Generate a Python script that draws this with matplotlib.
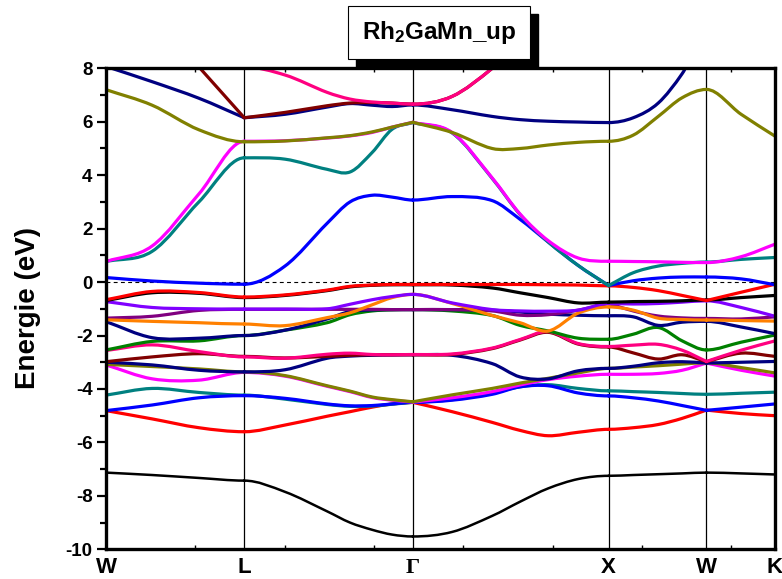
import numpy as np
import matplotlib
matplotlib.use("Agg")
import matplotlib.pyplot as plt
from matplotlib.path import Path
from matplotlib.patches import PathPatch, Rectangle
from matplotlib.transforms import blended_transform_factory

plt.rcParams['font.family'] = 'Liberation Sans'
plt.rcParams['axes.unicode_minus'] = False
plt.rcParams['mathtext.fontset'] = 'custom'
plt.rcParams['mathtext.bf'] = 'Liberation Sans:bold'
plt.rcParams['mathtext.rm'] = 'Liberation Sans'

nan = np.nan

# k-path sampling (W-L-G-X-W-K)
kgrid = np.array([0.000, 0.129, 0.260, 0.387, 0.501, 0.619, 0.683, 0.745, 0.801, 0.859,
                  0.969, 1.081, 1.159, 1.238, 1.322, 1.407, 1.476, 1.546, 1.613, 1.681,
                  1.778, 1.873])
sym_idx = [0, 3, 9, 15, 19, 21]
sym_labels = ['W', 'L', 'Γ', 'X', 'W', 'K']
L, G, X, W2 = 3, 9, 15, 19

# band energies (eV) on kgrid
black1 = [-7.13, -7.22, -7.33, -7.43, -7.85, -8.58, -9.00, -9.27, -9.45, -9.52,
          -9.35, -8.75, -8.22, -7.72, -7.37, -7.25, -7.22, -7.19, -7.16, -7.13, -7.16, -7.20]
red1 = [-4.81, -5.12, -5.45, -5.60, -5.35, -5.02, -4.85, -4.68, -4.56, -4.50,
        -4.85, -5.25, -5.55, -5.75, -5.62, -5.51, -5.45, -5.33, -5.10, -4.79, -4.92, -5.00]
blue1 = [-4.81, -4.60, -4.33, -4.25, -4.35, -4.56, -4.63, -4.62, -4.56, -4.50,
         -4.42, -4.20, -3.92, -3.88, -4.15, -4.26, -4.33, -4.45, -4.62, -4.80, -4.68, -4.56]
teal1 = [-4.23, -3.98, -4.13, -4.23, -4.38, -4.58, -4.65, -4.64, -4.57, -4.50,
         -4.40, -4.15, -3.92, -3.84, -3.98, -4.07, -4.10, -4.13, -4.17, -4.20, -4.16, -4.12]
magenta1 = [-3.10, -3.62, -3.67, -3.38, -3.52, -3.90, -4.10, -4.32, -4.42, -4.49,
            -4.33, -4.10, -3.85, -3.65, -3.52, -3.45, -3.45, -3.42, -3.30, -3.03, -3.30, -3.52]
olive1 = [-3.08, -3.16, -3.25, -3.36, -3.50, -3.88, -4.08, -4.30, -4.40, -4.48,
          -4.22, -3.98, -3.78, -3.60, -3.40, -3.23, -3.18, -3.13, -3.07, -3.02, -3.20, -3.40]
navy3 = [-3.00, -3.10, -3.30, -3.36, -3.28, -2.85, -2.77, -2.74, -2.73, -2.72,
         -2.74, -3.05, -3.55, -3.62, -3.32, -3.23, -3.15, -3.02, -2.98, -3.03, -3.00, -2.97]
wine1 = [-2.98, -2.80, -2.68, -2.78, -2.84, -2.78, -2.74, -2.72, -2.72, -2.72,
         -2.71, -2.49, -2.17, -1.88, -2.32, -2.43, -2.65, -2.88, -2.72, -2.98, -2.66, -2.78]
pink1 = [-2.56, -2.35, -2.60, -2.80, -2.85, -2.70, -2.66, -2.71, -2.72, -2.71,
         -2.69, -2.47, -2.15, -1.85, -2.30, -2.41, -2.36, -2.33, -2.55, -2.97, -2.55, -2.20]
green = [-2.54, -2.22, -2.20, -2.00, -1.80, -1.52, -1.22, -1.08, -1.04, -1.03,
         -1.08, -1.25, -1.62, -1.83, -2.10, -2.14, -1.95, -1.70, -2.20, -2.54, -2.25, -1.98]
navy2 = [-1.48, -2.08, -2.10, -2.00, -1.80, -1.38, -1.10, -1.04, -1.03, -1.03,
         -1.03, -1.05, -1.12, -1.20, -1.24, -1.26, -1.30, -1.62, -1.50, -1.47, -1.68, -1.93]
purple = [-1.35, -1.28, -1.06, -1.02, -1.02, -1.02, -1.02, -1.02, -1.03, -1.03,
          -1.03, -1.08, -1.24, -1.22, -1.05, -0.80, -1.08, -1.27, -1.34, -1.36, -1.38, -1.30]
orange = [-1.41, -1.47, -1.52, -1.57, -1.63, -1.33, -1.15, -0.85, -0.58, -0.46,
          -0.80, -1.25, -1.52, -1.83, -1.16, -0.93, -1.05, -1.35, -1.40, -1.42, -1.44, -1.46]
violet = [-0.73, -0.95, -1.00, -1.01, -1.01, -1.00, -0.83, -0.66, -0.54, -0.46,
          -0.78, -1.03, -1.08, -1.09, -1.05, -0.80, -0.82, -0.80, -0.75, -0.70, -0.95, -1.28]
black2 = [-0.69, -0.40, -0.42, -0.58, -0.50, -0.32, -0.18, -0.12, -0.10, -0.10,
          -0.11, -0.22, -0.40, -0.58, -0.78, -0.75, -0.73, -0.72, -0.70, -0.67, -0.58, -0.50]
red2 = [-0.66, -0.35, -0.39, -0.56, -0.48, -0.30, -0.16, -0.11, -0.09, -0.09,
        -0.09, -0.09, -0.09, -0.10, -0.11, -0.14, -0.20, -0.32, -0.50, -0.69, -0.38, -0.08]
blue2 = [0.17, 0.04, -0.04, -0.08, 0.60, 2.20, 3.00, 3.25, 3.18, 3.07,
         3.20, 3.05, 2.35, 1.50, 0.62, -0.13, 0.05, 0.15, 0.19, 0.19, 0.12, -0.10]
teal2 = [0.77, 1.15, 3.00, 4.65, 4.60, 4.22, 4.12, 4.85, 5.72, 5.97,
         5.58, 3.88, 2.53, 1.50, 0.62, -0.13, 0.35, 0.60, 0.70, 0.75, 0.85, 0.92]
magenta2 = [0.77, 1.35, 3.30, 5.27, 5.29, 5.39, 5.47, 5.60, 5.80, 5.98,
            5.60, 3.90, 2.55, 1.55, 0.90, 0.78, 0.77, 0.76, 0.74, 0.73, 0.95, 1.42]
olive2 = [7.20, 6.62, 5.70, 5.25, 5.28, 5.40, 5.48, 5.62, 5.80, 5.98,
          5.60, 5.00, 5.00, 5.13, 5.23, 5.27, 5.50, 6.20, 6.90, 7.21, 6.28, 5.46]
navy1 = [8.07, 7.50, 6.88, 6.15, 6.28, 6.55, 6.68, 6.62, 6.57, 6.63,
         6.45, 6.20, 6.08, 6.02, 5.99, 5.97, 6.15, 6.70, 7.80, 9.30, nan, nan]
wine2 = [nan, 10.0, 8.05, 6.15, 6.35, 6.60, 6.70, 6.72, 6.70, 6.66,
         6.95, 8.00, 9.00, nan, nan, nan, nan, nan, nan, nan, nan, nan]
pink2 = [nan, nan, nan, 8.05, 7.75, 7.10, 6.85, 6.74, 6.70, 6.66,
         6.95, 8.00, 9.00, nan, nan, nan, nan, nan, nan, nan, nan, nan]

# (energies, colour, symmetry points where the band has a kink)
bands = [
    (black1, '#000000', ()), (red1, '#FF0000', (G, W2)), (teal1, '#008080', (G,)),
    (blue1, '#0000FF', (W2,)), (magenta1, '#FF00FF', (G, W2)), (olive1, '#808000', (G,)),
    (navy3, '#000080', (W2,)), (wine1, '#800000', (W2,)), (pink1, '#FF0080', (W2,)),
    (green, '#008000', ()), (navy2, '#000080', ()), (purple, '#800080', (X,)),
    (orange, '#FF8000', ()), (violet, '#8000FF', ()), (black2, '#000000', ()),
    (red2, '#FF0000', (W2,)), (blue2, '#0000FF', (X,)), (teal2, '#008080', (G, X)),
    (magenta2, '#FF00FF', (G,)), (olive2, '#808000', (G,)),
    (navy1, '#000080', (L,)), (wine2, '#800000', (L,)), (pink2, '#FF0080', ()),
]


def band_path(k, e, kinks):
    # cubic pieces through the samples, flat at symmetry points unless kinked
    e = np.asarray(e, dtype=float)
    verts, codes = [], []
    for i0, i1 in zip(sym_idx[:-1], sym_idx[1:]):
        idx = np.arange(i0, i1 + 1)
        idx = idx[np.isfinite(e[idx])]
        if len(idx) < 2:
            continue
        xs, ys = k[idx], e[idx]
        n = len(xs)
        d = np.empty(n)
        d[0] = (ys[1] - ys[0]) / (xs[1] - xs[0])
        d[-1] = (ys[-1] - ys[-2]) / (xs[-1] - xs[-2])
        if n > 2:
            d[1:-1] = (ys[2:] - ys[:-2]) / (xs[2:] - xs[:-2])
        if idx[0] in sym_idx[1:-1] and idx[0] not in kinks:
            d[0] = 0.0
        if idx[-1] in sym_idx[1:-1] and idx[-1] not in kinks:
            d[-1] = 0.0
        verts.append((xs[0], ys[0]))
        codes.append(Path.MOVETO)
        for j in range(n - 1):
            h = xs[j + 1] - xs[j]
            verts += [(xs[j] + h / 3, ys[j] + d[j] * h / 3),
                      (xs[j + 1] - h / 3, ys[j + 1] - d[j + 1] * h / 3),
                      (xs[j + 1], ys[j + 1])]
            codes += [Path.CURVE4] * 3
    return Path(verts, codes)


fig = plt.figure(figsize=(7.82, 5.79), dpi=100)
ax = fig.add_axes([0.1356, 0.0513, 0.8555, 0.8307])

for e, c, kinks in bands:
    lw = 1.8 if e is black1 else 2.3
    ax.add_patch(PathPatch(band_path(kgrid, e, kinks), fill=False, edgecolor=c, lw=lw,
                           capstyle='round', joinstyle='round', zorder=2))

sym_k = kgrid[sym_idx]
for x in sym_k[1:-1]:
    ax.axvline(x, color='black', lw=0.9, zorder=1)
ax.axhline(0, color='black', lw=0.8, dashes=(3.5, 3), zorder=1)

ax.set_xlim(sym_k[0], sym_k[-1])
ax.set_ylim(-10, 8)
ax.set_yticks(np.arange(-10, 9, 2))
ax.set_yticks(np.arange(-9, 8, 2), minor=True)
ax.set_xticks(np.arange(0, 1.87, 0.25))
ax.set_xticklabels([])
ax.tick_params(axis='y', which='major', direction='out', length=6.7, width=1.6,
               labelsize=13.5, pad=3, right=False)
ax.tick_params(axis='y', which='minor', direction='out', length=4.3, width=1.6, right=False)
ax.tick_params(axis='x', direction='in', length=3, width=1, top=True)
for lbl in ax.get_yticklabels():
    lbl.set_fontweight('bold')
for sp in ax.spines.values():
    sp.set_linewidth(2.4)

lab_tr = blended_transform_factory(ax.transData, fig.transFigure)
for x, name in zip(sym_k, sym_labels):
    fam = 'Liberation Serif' if name == 'Γ' else 'Liberation Sans'
    ax.text(x, 0.0104, name, transform=lab_tr, ha='center', va='baseline',
            fontsize=16, fontweight='bold', family=fam)

fig.text(0.036, 0.468, 'Energie (eV)', rotation=90, ha='center', va='center',
         fontsize=20, fontweight='bold')

# title box with drop shadow
bx, by, bw, bh = 0.4446, 0.8976, 0.2331, 0.0921
fig.patches.append(Rectangle((bx + 8 / 782, by - 8 / 579), bw, bh, transform=fig.transFigure,
                             facecolor='black', edgecolor='black', zorder=5))
fig.patches.append(Rectangle((bx, by), bw, bh, transform=fig.transFigure,
                             facecolor='white', edgecolor='black', lw=0.8, zorder=6))
fig.text(bx + bw / 2, by + bh / 2, r'$\mathbf{Rh_2GaMn\_up}$', ha='center', va='center',
         fontsize=17.5, zorder=7)

fig.savefig('out.png', dpi=100)
